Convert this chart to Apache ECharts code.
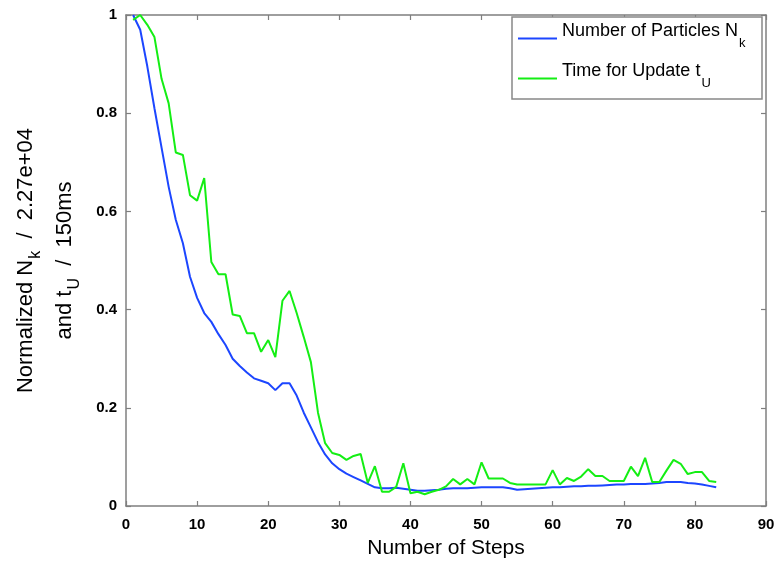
<!DOCTYPE html>
<html>
<head>
<meta charset="utf-8">
<script src="https://cdn.jsdelivr.net/npm/echarts@6/dist/echarts.min.js"></script>
<style>html,body{margin:0;padding:0;background:#fff;}#c{width:778px;height:562px;}</style>
</head>
<body>
<div id="c"></div>
<script>
const steps = [];
for (let i = 1; i <= 83; i++) steps.push(i);

const particles = [
  1.0, 0.97, 0.895, 0.81, 0.73, 0.65, 0.583, 0.535, 0.467, 0.424,
  0.393, 0.375, 0.35, 0.328, 0.30, 0.285, 0.272, 0.26, 0.255, 0.25,
  0.236, 0.25, 0.25, 0.225, 0.19, 0.16, 0.13, 0.105, 0.087, 0.075,
  0.066, 0.059, 0.052, 0.045, 0.038, 0.036, 0.036, 0.037, 0.035, 0.033,
  0.031, 0.031, 0.032, 0.033, 0.035, 0.036, 0.036, 0.036, 0.037, 0.038,
  0.038, 0.038, 0.038, 0.036, 0.033, 0.034, 0.035, 0.036, 0.037, 0.038,
  0.038, 0.039, 0.040, 0.040, 0.041, 0.041, 0.042, 0.043, 0.044, 0.044,
  0.045, 0.045, 0.045, 0.046, 0.047, 0.049, 0.049, 0.049, 0.047, 0.046,
  0.044, 0.041, 0.038
];

const updateTime = [
  0.99, 1.0, 0.98, 0.955, 0.87, 0.82, 0.72, 0.715, 0.633, 0.622,
  0.668, 0.497, 0.472, 0.472, 0.39, 0.387, 0.352, 0.352, 0.314, 0.338,
  0.303, 0.418, 0.438, 0.393, 0.344, 0.293, 0.19, 0.128, 0.108, 0.104,
  0.094, 0.102, 0.106, 0.047, 0.081, 0.029, 0.029, 0.039, 0.087, 0.026,
  0.029, 0.024, 0.029, 0.033, 0.040, 0.055, 0.044, 0.055, 0.044, 0.089,
  0.056, 0.056, 0.056, 0.047, 0.044, 0.044, 0.044, 0.044, 0.044, 0.073,
  0.044, 0.057, 0.051, 0.060, 0.075, 0.061, 0.061, 0.051, 0.051, 0.051,
  0.080, 0.061, 0.098, 0.049, 0.049, 0.072, 0.094, 0.086, 0.065, 0.069,
  0.069, 0.051, 0.049
];

const seriesNames = ['Number of Particles N', 'Time for Update t'];
const seriesSubs = ['k', 'U'];

const FONT = 'Liberation Sans';
const axisGray = '#7f7f7f';

const chart = echarts.init(document.getElementById('c'), null, {renderer: 'canvas'});

const pairs = (ys) => steps.map((x, i) => [x, ys[i]]);

// legend line icon drawn near the bottom of its box (baseline-aligned like the original)
const legendIcon = 'path://M0,0L0.01,0L0.01,0.01L0,0.01Z M0,15L39,15L39,17L0,17Z';

const option = {
  backgroundColor: '#fff',
  animation: false,
  grid: {left: 126, right: 12, top: 15, bottom: 56, containLabel: false, outerBoundsMode: 'none'},
  graphic: [{
    type: 'rect', z: 1,
    shape: {x: 512, y: 17, width: 250, height: 82},
    style: {fill: '#fff', stroke: '#888', lineWidth: 1.5}
  }],
  legend: {
    orient: 'vertical',
    left: 512,
    top: 17,
    itemWidth: 39,
    itemHeight: 17,
    itemGap: 12,
    icon: legendIcon,
    symbolKeepAspect: false,
    padding: [5, 6, 5, 6],
    z: 5,
    data: seriesNames,
    formatter: (name) => {
      const i = seriesNames.indexOf(name);
      return '{a|' + name + '}{s|' + seriesSubs[i] + '}';
    },
    textStyle: {
      fontFamily: FONT,
      color: '#000',
      rich: {
        a: {fontFamily: FONT, fontSize: 18, color: '#000', lineHeight: 22, verticalAlign: 'middle'},
        s: {fontFamily: FONT, fontSize: 13, color: '#000', lineHeight: 13, verticalAlign: 'bottom', padding: [0, 0, -8, 1]}
      }
    }
  },
  xAxis: [{
    type: 'value', min: 0, max: 90, interval: 10,
    name: 'Number of Steps', nameLocation: 'middle', nameGap: 32,
    nameTextStyle: {fontFamily: FONT, fontSize: 21, color: '#000'},
    axisLine: {show: true, onZero: false, lineStyle: {color: axisGray, width: 1.5}},
    axisTick: {show: true, inside: true, length: 5, lineStyle: {color: axisGray, width: 1.2}},
    axisLabel: {fontFamily: FONT, fontSize: 15, color: '#000', margin: 11, fontWeight: 'bold'},
    splitLine: {show: false}
  }, {
    type: 'value', min: 0, max: 90, interval: 10, position: 'top',
    axisLine: {show: true, onZero: false, lineStyle: {color: axisGray, width: 1.5}},
    axisTick: {show: true, inside: true, length: 5, lineStyle: {color: axisGray, width: 1.2}},
    axisLabel: {show: false}, splitLine: {show: false}
  }],
  yAxis: [{
    type: 'value', min: 0, max: 1, interval: 0.2,
    name: '{a|Normalized N}{s|k}{a|  /  2.27e+04}\n{a|and t}{s|U}{a|  /  150ms}',
    nameLocation: 'middle', nameRotate: 90, nameGap: 42,
    nameTextStyle: {
      fontFamily: FONT, color: '#000', align: 'center',
      rich: {
        a: {fontFamily: FONT, fontSize: 22, color: '#000', lineHeight: 39, verticalAlign: 'middle'},
        s: {fontFamily: FONT, fontSize: 16, color: '#000', lineHeight: 16, verticalAlign: 'bottom', padding: [0, 0, 1, 1]}
      }
    },
    axisLine: {show: true, onZero: false, lineStyle: {color: axisGray, width: 1.5}},
    axisTick: {show: true, inside: true, length: 5, lineStyle: {color: axisGray, width: 1.2}},
    axisLabel: {fontFamily: FONT, fontSize: 15, color: '#000', margin: 9, fontWeight: 'bold'},
    splitLine: {show: false}
  }, {
    type: 'value', min: 0, max: 1, interval: 0.2, position: 'right',
    axisLine: {show: true, onZero: false, lineStyle: {color: axisGray, width: 1.5}},
    axisTick: {show: true, inside: true, length: 5, lineStyle: {color: axisGray, width: 1.2}},
    axisLabel: {show: false}, splitLine: {show: false}
  }],
  series: [{
    name: seriesNames[0], type: 'line', data: pairs(particles),
    showSymbol: false, symbol: 'none', z: 3,
    lineStyle: {color: '#1c46ff', width: 2},
    itemStyle: {color: '#1c46ff'}
  }, {
    name: seriesNames[1], type: 'line', data: pairs(updateTime),
    showSymbol: false, symbol: 'none', z: 3,
    lineStyle: {color: '#14ee14', width: 2},
    itemStyle: {color: '#14ee14'}
  }]
};
chart.setOption(option);
</script>
</body>
</html>
